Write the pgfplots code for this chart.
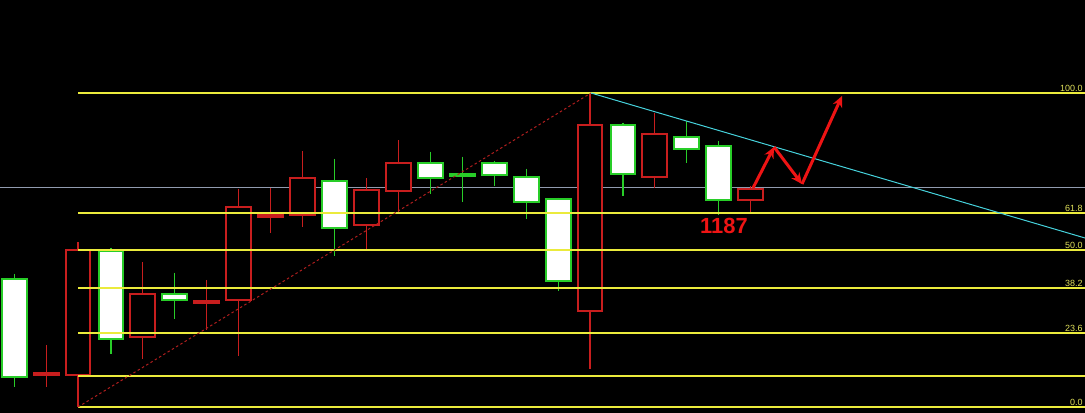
\documentclass[border=0pt]{standalone}
\usepackage{pgfplots}
\pgfplotsset{compat=1.18}
\usepgfplotslibrary{statistics}
\usetikzlibrary{arrows.meta}
\usepackage{fontspec}
\setmainfont{Liberation Sans}
\definecolor{cgreen}{RGB}{40,205,40}
\definecolor{cred}{RGB}{200,30,30}
\definecolor{fib}{RGB}{235,235,60}
\definecolor{fibtxt}{RGB}{225,225,90}
\definecolor{hgray}{RGB}{145,155,175}
\definecolor{tcyan}{RGB}{70,210,220}
\definecolor{dred}{RGB}{175,30,30}
\definecolor{arr}{RGB}{238,20,20}
% candle: x, low, body bottom, body top, high, style
\newcommand{\candle}[6]{%
  \addplot[#6, boxplot prepared={draw direction=y, draw position=#1, lower whisker=#2,
    lower quartile=#3, median=#3, upper quartile=#4, upper whisker=#5,
    box extend=24.5, whisker extend=0}] coordinates {};}
\pgfplotsset{
  boxplot/every whisker/.style={line width=1.2bp},
  boxplot/every box/.style={line width=1.7bp},
  boxplot/every median/.style={line width=1.7bp},
}
\begin{document}
\begin{tikzpicture}
\begin{axis}[
  scale only axis, width=1085bp, height=413bp,
  xmin=0, xmax=1085, ymin=0, ymax=413,
  axis lines=none, ticks=none,
  axis background/.style={fill=black},
]
% horizontal gray line
\addplot[hgray, line width=1bp] coordinates {(0,225) (1085,225)};
% candles
\candle{14.5}{26}{36}{134}{139}{draw=cgreen, fill=white}
\candle{46.5}{26}{38.3}{39.7}{68}{draw=cred, fill=cred}
\candle{78}{6}{38}{163}{171}{draw=cred, fill=black}
\candle{111}{59}{74}{162}{165}{draw=cgreen, fill=white}
\candle{142.5}{54}{76}{119}{151}{draw=cred, fill=black}
\candle{174.5}{94}{113}{119}{140}{draw=cgreen, fill=white}
\candle{206.5}{83}{110.3}{111.7}{133}{draw=cred, fill=cred}
\candle{238.5}{57}{113}{206}{224}{draw=cred, fill=black}
\candle{270.5}{180}{196.3}{197.7}{225}{draw=cred, fill=cred}
\candle{302.5}{186}{198}{235}{262}{draw=cred, fill=black}
\candle{334.5}{157}{185}{232}{254}{draw=cgreen, fill=white}
\candle{366.5}{163}{188}{223}{235}{draw=cred, fill=black}
\candle{398.5}{199}{222}{250}{273}{draw=cred, fill=black}
\candle{430.5}{219}{235}{250}{261}{draw=cgreen, fill=white}
\candle{462.5}{211}{237.3}{238.7}{256}{draw=cgreen, fill=white}
\candle{494.5}{227}{238}{250}{252}{draw=cgreen, fill=white}
\candle{526.5}{194}{211}{236}{244}{draw=cgreen, fill=white}
\candle{558.5}{122}{132}{214}{215}{draw=cgreen, fill=white}
\candle{590}{44}{102}{288}{320}{draw=cred, fill=black}
\candle{623}{217}{239}{288}{290}{draw=cgreen, fill=white}
\candle{654.5}{225}{236}{279}{300}{draw=cred, fill=black}
\candle{686.5}{250}{264}{276}{292}{draw=cgreen, fill=white}
\candle{718.5}{198}{213}{267}{272}{draw=cgreen, fill=white}
\candle{750.5}{200}{213}{224}{227}{draw=cred, fill=black}
% fibonacci levels
\addplot[fib, line width=1.1bp] coordinates {(78,320) (1085,320)};
\addplot[fib, line width=1.1bp] coordinates {(78,200) (1085,200)};
\addplot[fib, line width=1.1bp] coordinates {(78,163) (1085,163)};
\addplot[fib, line width=1.1bp] coordinates {(78,125) (1085,125)};
\addplot[fib, line width=1.1bp] coordinates {(78,80) (1085,80)};
\addplot[fib, line width=1.1bp] coordinates {(78,37) (1085,37)};
\addplot[fib, line width=1.1bp] coordinates {(78,6) (1085,6)};
% fib labels
\begin{scope}[font=\fontsize{9}{10}\selectfont, text=fibtxt]
\node[anchor=south east, inner sep=1.2bp] at (axis cs:1084,320) {100.0};
\node[anchor=south east, inner sep=1.2bp] at (axis cs:1084,200) {61.8};
\node[anchor=south east, inner sep=1.2bp] at (axis cs:1084,163) {50.0};
\node[anchor=south east, inner sep=1.2bp] at (axis cs:1084,125) {38.2};
\node[anchor=south east, inner sep=1.2bp] at (axis cs:1084,80) {23.6};
\node[anchor=south east, inner sep=1.2bp] at (axis cs:1084,6) {0.0};
\end{scope}
% trend lines
\addplot[dred, line width=1bp, dash pattern=on 2.5bp off 2.5bp] coordinates {(78,6) (591,320)};
\addplot[tcyan, line width=1bp] coordinates {(591,320) (1085,175)};
% projected path arrows
\addplot[arr, line width=3bp, -{Stealth[length=11bp,width=10bp]}] coordinates {(753,225) (774,266)};
\addplot[arr, line width=3bp, -{Stealth[length=11bp,width=10bp]}] coordinates {(774,266) (802,229)};
\addplot[arr, line width=3bp, -{Stealth[length=11bp,width=10bp]}] coordinates {(802,229) (842,317)};
\node[text=arr, font=\bfseries\fontsize{22}{24}\selectfont, inner sep=0pt] at (axis cs:724,187) {1187};
\end{axis}
\end{tikzpicture}
\end{document}
